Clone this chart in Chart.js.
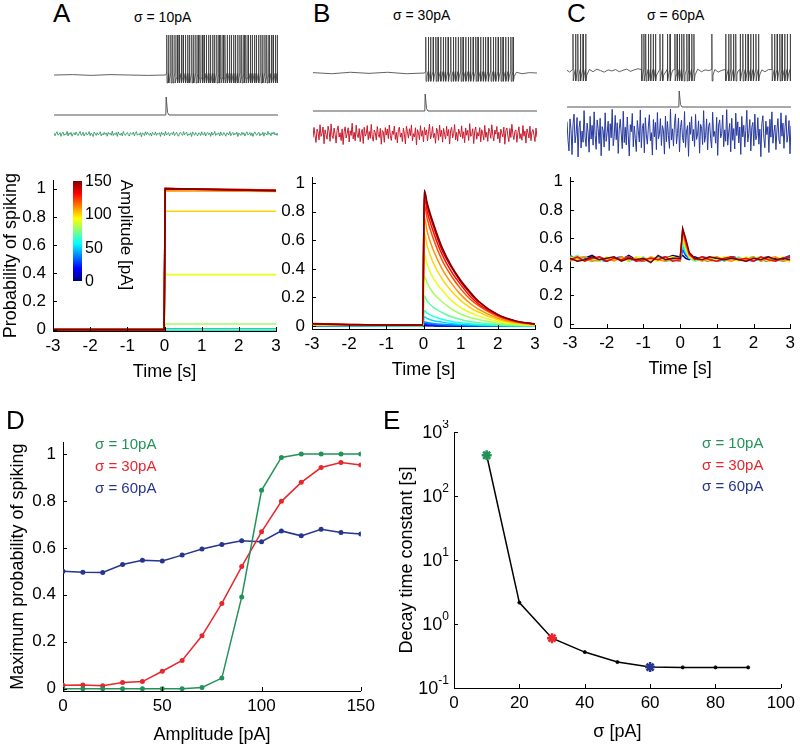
<!DOCTYPE html>
<html>
<head>
<meta charset="utf-8">
<script src="https://cdn.jsdelivr.net/npm/chart.js@4/dist/chart.umd.min.js"></script>
<style>
  body { margin: 0; width: 800px; height: 747px; overflow: hidden; background: #fff; position: relative;
         font-family: "Liberation Sans", Arial, Helvetica, sans-serif; }
  canvas, .t { position: absolute; }
  .t { white-space: nowrap; line-height: 1; }
</style>
</head>
<body>
<script>
// ---- data ----
// amplitude levels of the stimulus (colour scale 0..150 pA)
var ampLevels = [0, 10, 20, 30, 40, 50, 60, 70, 80, 90, 100, 110, 120, 130, 140, 150];
var timeTicks = [-3, -2, -1, 0, 1, 2, 3];
var probTicks = [0, 0.2, 0.4, 0.6, 0.8, 1];

// top traces: spike times [s]
var spikesA = [0.02, 0.07, 0.13, 0.18, 0.24, 0.30, 0.35, 0.41, 0.46, 0.52, 0.58, 0.63, 0.69, 0.74, 0.80, 0.86, 0.91, 0.97,
  1.02, 1.08, 1.14, 1.19, 1.25, 1.30, 1.36, 1.42, 1.47, 1.53, 1.58, 1.64, 1.70, 1.75, 1.81, 1.86, 1.92, 1.98,
  2.03, 2.09, 2.14, 2.20, 2.26, 2.31, 2.37, 2.42, 2.48, 2.54, 2.59, 2.65, 2.70, 2.76, 2.82, 2.87, 2.93, 2.98];
var spikesB = [0.02, 0.09, 0.15, 0.22, 0.29, 0.35, 0.42, 0.49, 0.55, 0.62, 0.69, 0.76, 0.82, 0.89, 0.96, 1.02, 1.09, 1.16,
  1.22, 1.29, 1.36, 1.42, 1.49, 1.56, 1.62, 1.69, 1.76, 1.83, 1.89, 1.96, 2.03, 2.09, 2.16, 2.23, 2.30, 2.36];
var spikesC = [-2.84, -2.77, -2.71, -2.64, -2.57, -2.50,
  -1.00, -0.94, -0.89, -0.82, -0.76, -0.69, -0.63, -0.51, -0.44, -0.31, -0.24,
  -0.11, -0.05, 0.01, 0.07, 0.13, 0.21, 0.27, 0.34, 0.40,
  0.88,
  1.25, 1.33, 1.39, 1.46, 1.52,
  1.64, 1.71, 1.78, 1.85, 1.92, 1.99, 2.06, 2.13,
  2.49, 2.56, 2.63, 2.70, 2.76, 2.83, 2.90, 2.98];

// subthreshold membrane between spikes (time, normalised voltage)
var baseTimeA = [-3, -2.5, -2, -1.5, -1, -0.5, -0.01];
var baseValA = [0, 0.01, -0.01, 0.01, 0, -0.01, 0];
var baseTimeB = [-3, -2.5, -2, -1.5, -1, -0.5, -0.01, 2.45, 2.6, 2.8, 3.0];
var baseValB = [0.01, -0.02, 0.02, -0.01, 0.02, -0.02, 0, 0.02, -0.02, 0.01, 0];
var baseTimeC = [-3.0, -2.93, -2.4, -2.3, -2.2, -2.1, -2.0, -1.9, -1.8, -1.7, -1.6, -1.5, -1.4, -1.3, -1.2, -1.1,
  -0.17, 0.5, 0.6, 0.7, 0.8, 0.96, 1.05, 1.15, 1.58, 2.22, 2.3, 2.4];
var baseValC = [0.02, -0.03, 0.04, -0.02, 0.05, 0.01, -0.03, 0.03, 0.0, 0.04, -0.02, 0.02, 0.05, -0.01, 0.03, 0.06,
  0.02, 0.05, -0.02, 0.03, 0.01, 0.04, -0.03, 0.02, 0.0, 0.03, -0.02, 0.04];

// stimulus pulse
var stimTime = [-3, -0.005, 0.005, 0.04, 0.08, 3];
var stimVal = [0, 0, 1, 0.15, 0, 0];

// input noise samples [pA]
var noise10 = [
  6, -11, 3, 14, -7, -2, 9, -15, 4, 12, -9, 1, -5, 17, -12, 7,
  -3, 10, -14, 2, 8, -6, 13, -1, -10, 5, 16, -8, -4, 11, -13, 3,
  9, -7, 0, 15, -11, 6, -2, -16, 12, 4, -9, 8, -5, 1, 14, -12,
  2, -6, 11, -3, 7, -14, 10, -1, 5, -8, 18, -10, 3, -4, 9, -15,
  13, -2, -7, 6, -12, 16, 1, -9, 4, 10, -6, -13, 8, 2, -3, 12,
  -11, 5, 15, -8, 0, -5, 9, -17, 7, 3, -10, 14, -4, 11, -2, -8,
  6, -13, 10, 1, -6, 13, -9, 4, -1, 8, -15, 12, -3, 5, -11, 16,
  -7, 2, 9, -12, 3, 7, -4, 14, -10, 0, 11, -6, -14, 6, 10, -2,
  -9, 15, -5, 4, 12, -11, 1, -7, 8, -16, 13, 3, -8, 9, -1, -12,
  7, 5, -10, 14, -3, -6, 11, -13, 2, 10, -4, 6, -15, 12, -7, 1,
  16, -9, 3, -2, 8, -12, 13, -5, -8, 9, 0, -14, 7, 4, -6, 15,
  -11, 2, 10, -7, 5, -3, 12, -16, 6, 1, -9, 11, -4, 8, -13, 3,
  14, -6, -1, 9, -10, 7, -15, 4, 13, -2, -8, 6, 10, -12, 2, -5,
  11, -14, 8, 0, -7, 16, -3, 5, -11, 9, -1, 12, -6, 3, -9, 7];
var noise30 = [
  -22, 41, -8, -53, 30, 12, -37, 58, -15, 5, 44, -61, 26, -4, -33, 49,
  18, -46, 63, -11, -28, 37, -2, -57, 24, 51, -19, 8, -41, 32, -66, 14,
  45, -25, 3, 39, -50, 20, -9, 67, -31, 11, -43, 55, -6, -23, 34, -48,
  7, 29, -59, 42, -13, 1, 53, -36, 16, -27, 60, -17, -45, 25, 9, -38,
  47, -4, -21, 35, -64, 22, 13, -52, 40, -7, 31, -29, 56, -12, -40, 19,
  -3, 50, -34, 10, -56, 28, 43, -20, 6, -47, 36, -1, -62, 48, 15, -26,
  33, -10, 57, -42, 2, -18, 39, -69, 27, 8, -35, 52, -14, 21, -50, 41,
  -6, 26, -44, 13, 62, -30, -9, 46, -23, 4, -58, 37, 17, -39, 55, -16,
  24, -51, 35, -2, -32, 48, -12, 28, -63, 19, 42, -24, 3, 59, -37, 10,
  -45, 31, 6, -19, 51, -28, 14, -54, 38, -8, 23, -41, 65, -15, -5, 33,
  -60, 20, 44, -33, 9, -13, 40, -49, 27, 1, -38, 54, -21, 12, -46, 36,
  16, -27, 58, -7, -43, 25, -1, 47, -31, 11, -55, 30, 5, -18, 43, -64,
  21, 38, -11, -48, 34, -22, 61, -4, -35, 17, 26, -52, 8, 45, -29, 2,
  -39, 53, -14, 18, -57, 32, 7, -25, 49, -42, 13, 28, -8, -47, 37, -20];
var noise60 = [
  70, -45, -112, 88, 20, -135, 54, 118, -62, -8, 97, -150, 33, 76, -94, 12,
  -58, 140, -26, -84, 62, 5, -120, 104, -38, 48, -76, 132, -15, -102, 82, 28,
  -66, 92, -142, 40, 16, -88, 126, -52, 3, 74, -110, 58, -30, 148, -80, -20,
  110, -42, 64, -128, 24, 86, -6, -98, 136, -60, 36, -74, 100, -18, -144, 52,
  8, 122, -86, 44, -34, -116, 78, 14, -56, 144, -92, 30, 60, -124, 96, -12,
  -70, 38, 114, -48, 2, -138, 84, -24, 66, -104, 128, -36, -10, 90, -78, 46,
  18, -132, 106, -54, 72, -16, -96, 150, -44, 26, -82, 58, 120, -68, -4, 94,
  -118, 34, 80, -28, -62, 134, -90, 12, 46, -146, 68, -8, 102, -50, 22, -84,
  116, -40, -6, 76, -126, 54, 30, -72, 140, -58, -14, 88, -106, 42, 64, -36,
  -94, 130, -22, 10, -64, 98, -140, 50, 82, -30, -4, 112, -86, 20, -52, 146,
  -76, 6, 60, -118, 92, -46, 28, -100, 124, -16, 70, -62, 38, -134, 104, -24,
  48, -88, 16, 142, -56, -2, 84, -112, 36, 66, -80, 118, -42, -18, 96, -70,
  24, -148, 58, 108, -34, -92, 74, -10, 40, -122, 86, -26, 132, -64, 4, 50,
  -104, 18, 90, -44, -68, 126, -20, 62, -96, 32, 110, -58, -12, 78, -130, 44];

// A: sigma = 10 pA, probability of spiking vs time (one row per amplitude)
var timeA = [-3, -0.01, 0.02, 3];
var probA = [
  [0, 0, 0, 0], [0, 0, 0, 0], [0, 0, 0, 0], [0, 0, 0, 0], [0, 0, 0, 0], [0, 0, 0, 0], [0, 0, 0, 0], [0, 0, 0, 0],
  [0, 0, 0.04, 0.04], [0, 0, 0.39, 0.39], [0, 0, 0.84, 0.84], [0, 0, 0.985, 0.98],
  [0, 0, 1, 0.99], [0, 0, 1, 0.99], [0, 0, 1, 0.985], [0, 0, 1, 0.985]
];

// B: sigma = 30 pA
var timeB = [-3, -2, -1, -0.02, 0.02, 0.1, 0.25, 0.5, 0.75, 1, 1.25, 1.5, 2, 2.5, 3];
var probB = [
  [0.002, 0.001, 0.001, 0.001, 0.003, 0.003, 0.002, 0.001, 0.001, 0, 0, 0, 0, 0, 0],
  [0.003, 0.002, 0.002, 0.002, 0.006, 0.005, 0.004, 0.003, 0.002, 0.001, 0.001, 0, 0, 0, 0],
  [0.003, 0.002, 0.002, 0.002, 0.010, 0.008, 0.006, 0.004, 0.003, 0.002, 0.001, 0.001, 0, 0, 0],
  [0.004, 0.003, 0.002, 0.002, 0.020, 0.016, 0.012, 0.008, 0.005, 0.004, 0.003, 0.002, 0.001, 0.001, 0],
  [0.004, 0.003, 0.003, 0.003, 0.030, 0.025, 0.019, 0.013, 0.009, 0.006, 0.004, 0.003, 0.002, 0.001, 0.001],
  [0.005, 0.004, 0.003, 0.003, 0.065, 0.053, 0.040, 0.028, 0.019, 0.013, 0.009, 0.007, 0.004, 0.002, 0.001],
  [0.006, 0.004, 0.004, 0.004, 0.11, 0.09, 0.07, 0.048, 0.033, 0.023, 0.016, 0.012, 0.006, 0.003, 0.002],
  [0.006, 0.005, 0.004, 0.004, 0.21, 0.175, 0.135, 0.095, 0.065, 0.047, 0.033, 0.024, 0.012, 0.006, 0.003],
  [0.008, 0.006, 0.005, 0.005, 0.35, 0.30, 0.235, 0.17, 0.12, 0.085, 0.06, 0.045, 0.02, 0.01, 0.005],
  [0.009, 0.007, 0.006, 0.005, 0.50, 0.43, 0.34, 0.25, 0.18, 0.13, 0.095, 0.07, 0.033, 0.015, 0.007],
  [0.011, 0.008, 0.006, 0.006, 0.65, 0.56, 0.45, 0.33, 0.245, 0.18, 0.13, 0.095, 0.045, 0.02, 0.009],
  [0.012, 0.009, 0.007, 0.006, 0.76, 0.66, 0.54, 0.40, 0.30, 0.22, 0.16, 0.115, 0.055, 0.025, 0.011],
  [0.014, 0.010, 0.007, 0.007, 0.85, 0.75, 0.62, 0.46, 0.35, 0.26, 0.19, 0.14, 0.068, 0.03, 0.013],
  [0.016, 0.011, 0.008, 0.007, 0.90, 0.80, 0.67, 0.50, 0.38, 0.29, 0.21, 0.15, 0.075, 0.033, 0.014],
  [0.018, 0.012, 0.008, 0.008, 0.94, 0.84, 0.71, 0.53, 0.41, 0.31, 0.23, 0.165, 0.08, 0.035, 0.016],
  [0.016, 0.010, 0.008, 0.008, 0.95, 0.86, 0.73, 0.55, 0.42, 0.32, 0.24, 0.17, 0.08, 0.035, 0.015]
];

// C: sigma = 60 pA (subset of amplitudes)
var ampC = [0, 30, 50, 70, 90, 110, 130, 150];
var timeC = [-3.0, -2.8, -2.6, -2.4, -2.2, -2.0, -1.8, -1.6, -1.4, -1.2, -1.0, -0.8, -0.6, -0.4, -0.2, 0.0,
  0.07, 0.15, 0.25, 0.4, 0.6, 0.8, 1.0, 1.2, 1.4, 1.6, 1.8, 2.0, 2.2, 2.4, 2.6, 2.8, 3.0];
var probC = [
  [0.47, 0.44, 0.46, 0.48, 0.45, 0.44, 0.46, 0.45, 0.48, 0.45, 0.44, 0.46, 0.45, 0.46, 0.48, 0.47,
   0.48, 0.46, 0.45, 0.47, 0.45, 0.44, 0.46, 0.45, 0.47, 0.46, 0.44, 0.46, 0.45, 0.44, 0.46, 0.45, 0.47],
  [0.48, 0.45, 0.46, 0.44, 0.47, 0.45, 0.46, 0.47, 0.44, 0.46, 0.45, 0.44, 0.46, 0.47, 0.45, 0.44,
   0.52, 0.48, 0.46, 0.45, 0.47, 0.46, 0.44, 0.45, 0.47, 0.46, 0.45, 0.44, 0.46, 0.47, 0.45, 0.46, 0.48],
  [0.45, 0.46, 0.47, 0.45, 0.44, 0.46, 0.45, 0.46, 0.47, 0.44, 0.46, 0.45, 0.47, 0.44, 0.45, 0.46,
   0.55, 0.50, 0.47, 0.45, 0.46, 0.45, 0.47, 0.44, 0.46, 0.45, 0.46, 0.47, 0.44, 0.46, 0.45, 0.44, 0.46],
  [0.46, 0.48, 0.45, 0.44, 0.46, 0.45, 0.47, 0.44, 0.46, 0.45, 0.47, 0.44, 0.46, 0.45, 0.44, 0.46,
   0.59, 0.51, 0.46, 0.44, 0.45, 0.47, 0.44, 0.46, 0.45, 0.47, 0.44, 0.46, 0.47, 0.45, 0.44, 0.46, 0.44],
  [0.47, 0.45, 0.44, 0.46, 0.44, 0.47, 0.45, 0.46, 0.44, 0.47, 0.46, 0.45, 0.44, 0.46, 0.47, 0.45,
   0.62, 0.53, 0.47, 0.45, 0.46, 0.44, 0.45, 0.47, 0.46, 0.44, 0.47, 0.45, 0.46, 0.44, 0.45, 0.47, 0.43],
  [0.44, 0.46, 0.47, 0.44, 0.45, 0.46, 0.44, 0.47, 0.45, 0.46, 0.44, 0.47, 0.45, 0.44, 0.46, 0.44,
   0.65, 0.55, 0.48, 0.46, 0.44, 0.46, 0.47, 0.45, 0.44, 0.46, 0.45, 0.47, 0.44, 0.46, 0.47, 0.44, 0.45],
  [0.45, 0.47, 0.44, 0.46, 0.47, 0.44, 0.46, 0.45, 0.47, 0.44, 0.45, 0.46, 0.45, 0.47, 0.44, 0.45,
   0.66, 0.58, 0.49, 0.45, 0.47, 0.45, 0.44, 0.46, 0.47, 0.45, 0.46, 0.44, 0.47, 0.45, 0.44, 0.46, 0.47],
  [0.46, 0.44, 0.45, 0.47, 0.45, 0.46, 0.47, 0.44, 0.46, 0.45, 0.46, 0.43, 0.48, 0.45, 0.46, 0.46,
   0.67, 0.60, 0.50, 0.46, 0.45, 0.47, 0.46, 0.45, 0.46, 0.45, 0.44, 0.46, 0.45, 0.47, 0.45, 0.46, 0.45]
];

// D: maximum probability of spiking vs amplitude
var ampD = [0, 10, 20, 30, 40, 50, 60, 70, 80, 90, 100, 110, 120, 130, 140, 150];
var maxProb10 = [0, 0, 0, 0, 0, 0, 0, 0.005, 0.045, 0.39, 0.845, 0.985, 1, 1, 1, 1];
var maxProb30 = [0.015, 0.016, 0.012, 0.026, 0.03, 0.074, 0.12, 0.225, 0.363, 0.52, 0.668, 0.798, 0.879, 0.942, 0.963, 0.953];
var maxProb60 = [0.50, 0.496, 0.495, 0.529, 0.547, 0.544, 0.569, 0.595, 0.614, 0.63, 0.626, 0.672, 0.651, 0.679, 0.665, 0.659];
var ampTicks = [0, 50, 100, 150];

// E: decay time constant vs sigma
var sigmaE = [10, 20, 30, 40, 50, 60, 70, 80, 90];
var tauE = [433, 2.16, 0.60, 0.364, 0.254, 0.212, 0.21, 0.21, 0.21];
var sigmaTicks = [0, 20, 40, 60, 80, 100];
var tauTicks = [0.1, 1, 10, 100, 1000];

var legendSigmas = [10, 30, 60];
var legendNames = ['σ = 10pA', 'σ = 30pA', 'σ = 60pA'];
var legendColors = ['#239259', '#e8262d', '#26358e'];
var cbTicks = [0, 50, 100, 150];

// ---- helpers ----
Chart.defaults.font.family = '"Liberation Sans", Arial, Helvetica, sans-serif';
Chart.defaults.color = '#000';
Chart.defaults.animation = false;
Chart.defaults.plugins.legend.display = false;
Chart.defaults.plugins.tooltip.enabled = false;
Chart.defaults.elements.point.radius = 0;

function jet(v) {
  var c = function (k) { return Math.round(255 * Math.max(0, Math.min(1, 1.5 - Math.abs(4 * v - k)))); };
  return 'rgb(' + c(3) + ',' + c(2) + ',' + c(1) + ')';
}

function makeCanvas(x, y, w, h) {
  var c = document.createElement('canvas');
  c.width = w; c.height = h;
  c.style.left = x + 'px'; c.style.top = y + 'px';
  document.body.appendChild(c);
  return c.getContext('2d');
}

function addText(text, x, y, size, opts) {
  opts = opts || {};
  var d = document.createElement('div');
  d.className = 't';
  d.textContent = text;
  d.style.fontSize = size + 'px';
  d.style.left = x + 'px';
  d.style.top = y + 'px';
  d.style.color = opts.color || '#000';
  if (opts.vertical) d.style.writingMode = 'vertical-rl';
  var tx = opts.align === 'center' ? '-50%' : (opts.align === 'right' ? '-100%' : '0');
  d.style.transform = 'translate(' + tx + ',-50%)';
  document.body.appendChild(d);
}

// a trace strip: value 0 sits at basePx, value 1 at onePx, canvas spans y0..y1
function traceChart(x, w, y0, y1, basePx, onePx, xMin, xMax, datasets) {
  var ppu = basePx - onePx;
  return new Chart(makeCanvas(x, y0, w, y1 - y0), {
    type: 'line',
    data: { datasets: datasets },
    options: {
      responsive: false,
      layout: { padding: 0 },
      scales: {
        x: { type: 'linear', display: false, min: xMin, max: xMax },
        y: { display: false, min: -(y1 - basePx) / ppu, max: (basePx - y0) / ppu }
      }
    }
  });
}

function spikePoints(spikes, baseT, baseV, trough) {
  var pts = baseT.map(function (t, i) { return { x: t, y: baseV[i] }; });
  spikes.forEach(function (t) {
    pts.push({ x: t - 0.006, y: 0.04 }, { x: t, y: 1 }, { x: t + 0.008, y: trough }, { x: t + 0.03, y: trough * 0.4 });
  });
  return pts.sort(function (a, b) { return a.x - b.x; });
}

function xy(xs, ys) { return xs.map(function (v, i) { return { x: v, y: ys[i] }; }); }

// MATLAB style short ticks pointing into the axes
var inwardTicks = {
  id: 'inwardTicks',
  afterDraw: function (chart) {
    var ctx = chart.ctx, a = chart.chartArea, xs = chart.scales.x, ys = chart.scales.y;
    ctx.save();
    ctx.strokeStyle = '#000';
    ctx.lineWidth = 1;
    ctx.beginPath();
    xs.ticks.forEach(function (t) {
      var x = Math.round(xs.getPixelForValue(t.value)) + 0.5;
      ctx.moveTo(x, a.bottom); ctx.lineTo(x, a.bottom - 4);
    });
    ys.ticks.forEach(function (t) {
      var y = Math.round(ys.getPixelForValue(t.value)) + 0.5;
      ctx.moveTo(a.left, y); ctx.lineTo(a.left + 4, y);
    });
    ctx.stroke();
    ctx.restore();
  }
};

function plotChart(o) {
  var tickFont = { size: 17 }, titleFont = { size: 18 };
  return new Chart(makeCanvas(o.left, o.top, o.width, o.height), {
    type: 'line',
    data: { datasets: o.datasets },
    options: {
      responsive: false,
      layout: { padding: { top: o.padTop, right: o.padRight, left: 0, bottom: 0 } },
      scales: {
        x: {
          type: 'linear', min: o.xMin, max: o.xMax,
          grid: { display: false, drawTicks: false },
          border: { display: true, color: '#000', width: 1 },
          ticks: { font: tickFont, padding: 5, maxRotation: 0, autoSkip: false, callback: function (v) { return String(v); } },
          afterBuildTicks: function (s) { s.ticks = o.xTicks.map(function (v) { return { value: v }; }); },
          afterFit: function (s) { s.height = o.xHeight; },
          title: { display: true, text: o.xTitle, font: titleFont, padding: { top: 0, bottom: 4 } }
        },
        y: {
          type: o.yType || 'linear', min: o.yMin, max: o.yMax,
          grid: { display: false, drawTicks: false },
          border: { display: true, color: '#000', width: 1 },
          ticks: { display: o.yTickLabels !== false, font: tickFont, padding: 7, autoSkip: false, callback: function (v) { return String(v); } },
          afterBuildTicks: function (s) { s.ticks = o.yTicks.map(function (v) { return { value: v }; }); },
          afterFit: function (s) { s.width = o.yWidth; },
          title: { display: !!o.yTitle, text: o.yTitle || '', font: titleFont, padding: { top: o.yTitlePad || 0, bottom: 0 } }
        }
      }
    },
    plugins: [inwardTicks].concat(o.plugins || [])
  });
}

function probDatasets(levels, times, rows, width, smooth) {
  var out = [];
  for (var i = levels.length - 1; i >= 0; i--) {
    out.push({
      data: xy(times, rows[i]),
      borderColor: jet(levels[i] / 150),
      borderWidth: width,
      cubicInterpolationMode: smooth ? 'monotone' : 'default',
      tension: 0
    });
  }
  return out;
}

// ---- top traces ----
var traceLayout = [
  { x: 54, spikes: spikesA, bt: baseTimeA, bv: baseValA, trough: -0.2, spike: [75, 35], stim: [115, 97], noise: 134, data: noise10, color: '#1d9157', lw: 0.8 },
  { x: 313, spikes: spikesB, bt: baseTimeB, bv: baseValB, trough: -0.23, spike: [73, 37], stim: [111, 94], noise: 134, data: noise30, color: '#c81c2e', lw: 1 },
  { x: 567, spikes: spikesC, bt: baseTimeC, bv: baseValC, trough: -0.27, spike: [71, 34], stim: [107, 91], noise: 133, data: noise60, color: '#27399f', lw: 1 }
];
traceLayout.forEach(function (p) {
  traceChart(p.x, 224, p.spike[1] - 3, p.spike[0] + 13, p.spike[0], p.spike[1], -3, 3, [{
    data: spikePoints(p.spikes, p.bt, p.bv, p.trough), borderColor: '#3a3a3a', borderWidth: 0.8
  }]);
  traceChart(p.x, 224, p.stim[1] - 3, p.stim[0] + 3, p.stim[0], p.stim[1], -3, 3, [{
    data: xy(stimTime, stimVal), borderColor: '#555', borderWidth: 1
  }]);
  // noise strip: 0.16 px per pA
  traceChart(p.x, 224, p.noise - 30, p.noise + 30, p.noise, p.noise - 16, 0, p.data.length - 1, [{
    data: p.data.map(function (v, i) { return { x: i, y: v / 100 }; }), borderColor: p.color, borderWidth: p.lw
  }]);
});

// ---- A, B, C probability panels ----
plotChart({
  left: 0, top: 163, width: 290, height: 224, padTop: 12, padRight: 14, yWidth: 53, xHeight: 56,
  xMin: -3, xMax: 3, yMin: -0.01, yMax: 1.06, xTicks: timeTicks, yTicks: probTicks,
  xTitle: 'Time [s]', yTitle: 'Probability of spiking', yTitlePad: 0,
  datasets: probDatasets(ampLevels, timeA, probA, 1.6, false)
});
plotChart({
  left: 262, top: 160, width: 287, height: 225, padTop: 12, padRight: 14, yWidth: 50, xHeight: 56,
  xMin: -3, xMax: 3, yMin: -0.02, yMax: 1.04, xTicks: timeTicks, yTicks: probTicks,
  xTitle: 'Time [s]',
  datasets: probDatasets(ampLevels, timeB, probB, 1.5, true)
});
plotChart({
  left: 520, top: 160, width: 280, height: 224, padTop: 12, padRight: 5, yWidth: 50, xHeight: 56,
  xMin: -3, xMax: 3, yMin: -0.03, yMax: 1.03, xTicks: timeTicks, yTicks: probTicks,
  xTitle: 'Time [s]',
  datasets: probDatasets(ampC, timeC, probC, 1.5, false)
});

// ---- D ----
plotChart({
  left: 0, top: 425, width: 380, height: 325, padTop: 12, padRight: 17, yWidth: 63, xHeight: 59,
  xMin: 0, xMax: 150, yMin: -0.01, yMax: 1.05, xTicks: ampTicks, yTicks: probTicks,
  xTitle: 'Amplitude [pA]', yTitle: 'Maximum probability of spiking', yTitlePad: 7,
  datasets: [maxProb10, maxProb30, maxProb60].map(function (vals, k) {
    return {
      data: xy(ampD, vals), borderColor: legendColors[k], backgroundColor: legendColors[k],
      borderWidth: 1.5, pointRadius: 2.5, pointBorderWidth: 0, pointBackgroundColor: legendColors[k]
    };
  })
});

// ---- E ----
var powerLabels = {
  id: 'powerLabels',
  afterDraw: function (chart) {
    var s = chart.scales.y, ctx = chart.ctx;
    ctx.save();
    ctx.fillStyle = '#000';
    ctx.textBaseline = 'middle';
    tauTicks.forEach(function (v) {
      var y = s.getPixelForValue(v);
      var exp = String(Math.round(Math.log10(v)));
      var right = s.right - 5;
      ctx.font = '12px "Liberation Sans", Arial, sans-serif';
      ctx.textAlign = 'right';
      var ew = ctx.measureText(exp).width;
      ctx.fillText(exp, right, y - 7);
      ctx.font = '18px "Liberation Sans", Arial, sans-serif';
      ctx.fillText('10', right - ew, y + 1);
    });
    ctx.restore();
  }
};
function markerIndex(s) { return legendSigmas.indexOf(s); }
plotChart({
  left: 395, top: 420, width: 405, height: 327, padTop: 12, padRight: 19, yWidth: 59, xHeight: 59,
  xMin: 0, xMax: 100, yMin: 0.1, yMax: 1000, yType: 'logarithmic', yTickLabels: false,
  xTicks: sigmaTicks, yTicks: tauTicks,
  xTitle: 'σ [pA]', yTitle: 'Decay time constant [s]', yTitlePad: 1,
  plugins: [powerLabels],
  datasets: [{
    data: xy(sigmaE, tauE), borderColor: '#000', borderWidth: 1.5,
    pointStyle: sigmaE.map(function (s) { return markerIndex(s) >= 0 ? 'star' : 'circle'; }),
    pointRadius: sigmaE.map(function (s) { return markerIndex(s) >= 0 ? 5 : 1.5; }),
    pointBorderWidth: sigmaE.map(function (s) { return markerIndex(s) >= 0 ? 2.5 : 1; }),
    pointBorderColor: sigmaE.map(function (s) { var k = markerIndex(s); return k >= 0 ? legendColors[k] : '#000'; }),
    pointBackgroundColor: sigmaE.map(function (s) { var k = markerIndex(s); return k >= 0 ? legendColors[k] : '#000'; })
  }]
});

// ---- text: panel letters, titles, legends, colour bar ----
addText('A', 53, 13, 26);
addText('B', 313, 13, 26);
addText('C', 567, 13, 26);
addText('D', 6, 420, 26);
addText('E', 383, 420, 26);
addText('σ = 10pA', 134, 17, 14);
addText('σ = 30pA', 393, 15, 14);
addText('σ = 60pA', 647, 15, 14);
legendNames.forEach(function (name, k) {
  addText(name, 95, 443 + 22 * k, 15, { color: legendColors[k] });
  addText(name, 702, 442 + 21.5 * k, 15, { color: legendColors[k] });
});

var bar = document.createElement('div');
bar.style.cssText = 'position:absolute;left:73px;top:181px;width:9px;height:100px;' +
  'background:linear-gradient(to top,' + [0, 0.125, 0.375, 0.625, 0.875, 1].map(function (v) {
    return jet(v) + ' ' + (v * 100) + '%';
  }).join(',') + ');';
document.body.appendChild(bar);
cbTicks.forEach(function (v) {
  addText(String(v), 85, 281 - v / 150 * 100, 16);
});
addText('Amplitude [pA]', 126, 235, 17, { vertical: true, align: 'center' });
</script>
</body>
</html>
